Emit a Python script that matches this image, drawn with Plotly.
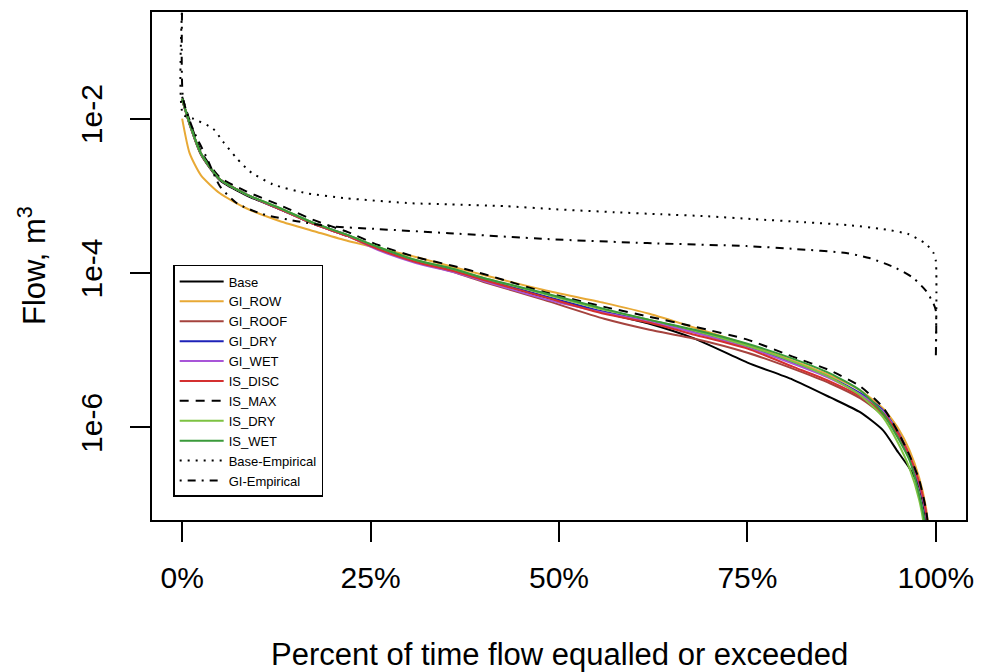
import plotly.graph_objects as go

# ---- data (percent of time vs flow, m3) ----
pct = [0, 1, 2.5, 5, 8.5, 13, 17.5, 22, 26, 31, 36, 40, 48, 56, 62, 68, 75, 81,
       86, 90, 93, 95, 96.5, 97.8, 98.7, 99.5]

base = [1.757e-2, 8.37e-3, 3.431e-3, 1.585e-3, 1.015e-3, 6.70e-4, 4.29e-4, 3.00e-4,
        2.10e-4, 1.43e-4, 1.061e-4, 8.12e-5, 4.90e-5, 3.05e-5, 2.20e-5, 1.41e-5,
        6.90e-6, 4.16e-6, 2.44e-6, 1.56e-6, 9.15e-7, 4.76e-7, 2.96e-7, 1.68e-7,
        6.31e-8, 5.86e-9]
gi_row = [1.0e-2, 3.535e-3, 1.839e-3, 1.077e-3, 6.90e-4, 4.69e-4, 3.48e-4, 2.59e-4,
          2.10e-4, 1.61e-4, 1.195e-4, 9.42e-5, 6.03e-5, 4.10e-5, 2.96e-5, 1.95e-5,
          1.18e-5, 7.32e-6, 4.69e-6, 3.00e-6, 1.76e-6, 9.71e-7, 5.05e-7, 2.20e-7,
          9.01e-8, 1.92e-8]
gi_roof = [1.757e-2, 8.37e-3, 3.431e-3, 1.633e-3, 1.046e-3, 6.70e-4, 4.29e-4, 3.00e-4,
           2.04e-4, 1.39e-4, 1.03e-4, 7.65e-5, 4.48e-5, 2.55e-5, 1.84e-5, 1.41e-5,
           9.28e-6, 5.77e-6, 3.70e-6, 2.37e-6, 1.43e-6, 7.88e-7, 3.98e-7, 1.79e-7,
           7.32e-8, 1.06e-8]
gi_dry = [1.811e-2, 8.62e-3, 3.535e-3, 1.633e-3, 1.046e-3, 6.70e-4, 4.42e-4, 3.09e-4,
          2.10e-4, 1.43e-4, 1.093e-4, 8.37e-5, 5.05e-5, 3.14e-5, 2.40e-5, 1.73e-5,
          1.11e-5, 6.90e-6, 4.42e-6, 2.75e-6, 1.66e-6, 8.62e-7, 4.22e-7, 1.84e-7,
          7.32e-8, 1.06e-8]
gi_wet = [1.811e-2, 8.62e-3, 3.535e-3, 1.633e-3, 1.046e-3, 6.70e-4, 4.29e-4, 3.00e-4,
          1.98e-4, 1.35e-4, 1.03e-4, 7.88e-5, 4.62e-5, 3.05e-5, 2.33e-5, 1.68e-5,
          1.08e-5, 6.70e-6, 4.29e-6, 2.66e-6, 1.61e-6, 8.37e-7, 4.35e-7, 1.89e-7,
          7.77e-8, 1.13e-8]
is_disc = [1.811e-2, 8.62e-3, 3.535e-3, 1.633e-3, 1.046e-3, 6.70e-4, 4.29e-4, 3.00e-4,
           2.04e-4, 1.39e-4, 1.061e-4, 8.12e-5, 4.90e-5, 2.96e-5, 2.26e-5, 1.585e-5,
           1.046e-5, 6.13e-6, 3.92e-6, 2.51e-6, 1.52e-6, 8.37e-7, 4.35e-7, 1.95e-7,
           8.0e-8, 1.23e-8]
is_max = [1.923e-2, 9.42e-3, 3.752e-3, 1.733e-3, 1.143e-3, 7.54e-4, 4.83e-4, 3.38e-4,
          2.30e-4, 1.61e-4, 1.23e-4, 9.71e-5, 5.69e-5, 3.64e-5, 2.71e-5, 2.01e-5,
          1.37e-5, 8.25e-6, 5.44e-6, 3.38e-6, 1.81e-6, 8.62e-7, 4.35e-7, 2.07e-7,
          8.49e-8, 1.92e-8]
is_dry = [1.811e-2, 8.62e-3, 3.535e-3, 1.633e-3, 1.046e-3, 6.90e-4, 4.42e-4, 3.09e-4,
          2.17e-4, 1.47e-4, 1.126e-4, 8.62e-5, 5.36e-5, 3.33e-5, 2.47e-5, 1.79e-5,
          1.14e-5, 7.11e-6, 4.42e-6, 2.59e-6, 1.35e-6, 6.22e-7, 2.96e-7, 1.14e-7,
          3.48e-8, 5.86e-9]
is_wet = [1.811e-2, 8.62e-3, 3.535e-3, 1.633e-3, 1.046e-3, 6.90e-4, 4.42e-4, 3.09e-4,
          2.17e-4, 1.47e-4, 1.126e-4, 8.62e-5, 5.52e-5, 3.43e-5, 2.47e-5, 1.84e-5,
          1.21e-5, 7.77e-6, 4.97e-6, 3.00e-6, 1.52e-6, 7.21e-7, 3.75e-7, 1.33e-7,
          4.69e-8, 5.86e-9]

pct_base_emp = [0, 0.13, 1.45, 4.09, 5.41, 7.26, 8.97, 12.0, 16.5, 21.8, 30.5, 35.4,
                42.9, 49.5, 57.4, 63.5, 69.7, 75.9, 82.5, 88.5, 93.0, 96.4, 98.7,
                99.7, 100, 100]
base_emp = [0.3, 1.127e-2, 1.0e-2, 7.43e-3, 5.05e-3, 3.05e-3, 2.07e-3, 1.41e-3,
            1.08e-3, 9.29e-4, 8.0e-4, 7.76e-4, 7.33e-4, 6.70e-4, 6.12e-4, 5.77e-4,
            5.43e-4, 4.98e-4, 4.55e-4, 4.16e-4, 3.70e-4, 3.18e-4, 2.37e-4, 1.81e-4,
            1.43e-4, 9.0e-6]

pct_gi_emp = [0, 0.13, 1.45, 3.3, 5.01, 7.26, 10.7, 15.2, 19.5, 26.1, 35.4, 48.5,
              61.7, 74.9, 81.5, 88.1, 91.2, 94.7, 97.0, 98.7, 99.7, 100, 100]
gi_emp = [0.3, 1.81e-2, 7.21e-3, 3.05e-3, 1.33e-3, 8.0e-4, 5.77e-4, 4.69e-4,
          4.04e-4, 3.70e-4, 3.28e-4, 2.75e-4, 2.44e-4, 2.23e-4, 2.04e-4, 1.81e-4,
          1.56e-4, 1.16e-4, 8.61e-5, 5.86e-5, 3.98e-5, 3.24e-5, 8.5e-6]

yticks = [1e-6, 1e-4, 1e-2]
ytick_labels = ["1e-6", "1e-4", "1e-2"]
xticks = [0, 25, 50, 75, 100]
xtick_labels = ["0%", "25%", "50%", "75%", "100%"]
x_title = "Percent of time flow equalled or exceeded"
y_title = "Flow, m<sup>3</sup>"

FONT = "Liberation Sans, Arial, sans-serif"

series = [
    ("Base", pct, base, "#000000", "solid"),
    ("GI_ROW", pct, gi_row, "#E8A935", "solid"),
    ("GI_ROOF", pct, gi_roof, "#A5433E", "solid"),
    ("GI_DRY", pct, gi_dry, "#1E22B8", "solid"),
    ("GI_WET", pct, gi_wet, "#A855D8", "solid"),
    ("IS_DISC", pct, is_disc, "#D43030", "solid"),
    ("IS_MAX", pct, is_max, "#000000", "9px,7px"),
    ("IS_DRY", pct, is_dry, "#7DC242", "solid"),
    ("IS_WET", pct, is_wet, "#3A9A3A", "solid"),
    ("Base-Empirical", pct_base_emp, base_emp, "#000000", "2px,6px"),
    ("GI-Empirical", pct_gi_emp, gi_emp, "#000000", "2px,6px,8px,6px"),
]

fig = go.Figure()
for name, xs, ys, col, dash in series:
    fig.add_trace(go.Scatter(
        x=xs, y=ys, mode="lines", name=name,
        line=dict(color=col, width=2, dash=dash, shape="spline", smoothing=0.6),
    ))

fig.update_layout(
    width=984, height=672,
    margin=dict(l=152, r=14, t=10, b=152),
    paper_bgcolor="white", plot_bgcolor="white",
    font=dict(family=FONT, color="black", size=30),
    showlegend=True,
    legend=dict(
        x=0.026, y=0.502, xanchor="left", yanchor="top",
        bgcolor="white", bordercolor="black", borderwidth=1.5,
        font=dict(family=FONT, size=13, color="black"),
        tracegroupgap=0, itemwidth=44,
    ),
    annotations=[
        dict(text=x_title, xref="paper", yref="paper", x=0.5, y=0,
             xanchor="center", yanchor="middle", yshift=-134, showarrow=False,
             font=dict(family=FONT, size=31, color="black")),
        dict(text=y_title, xref="paper", yref="paper", x=0, y=0.5,
             xanchor="center", yanchor="middle", xshift=-120, textangle=-90,
             showarrow=False, font=dict(family=FONT, size=31, color="black")),
    ],
)

fig.update_xaxes(
    range=[-4, 104], tickvals=xticks, ticktext=xtick_labels,
    showgrid=False, zeroline=False,
    showline=True, mirror=True, linecolor="black", linewidth=1.5,
    ticks="outside", ticklen=20, tickwidth=1.5, tickcolor="black",
    ticklabelstandoff=10,
    tickfont=dict(family=FONT, size=30),
)
fig.update_yaxes(
    type="log", range=[-7.2, -0.619], tickvals=yticks, ticktext=ytick_labels,
    tickangle=-90,
    showgrid=False, zeroline=False,
    showline=True, mirror=True, linecolor="black", linewidth=1.5,
    ticks="outside", ticklen=20, tickwidth=1.5, tickcolor="black",
    ticklabelstandoff=16,
    tickfont=dict(family=FONT, size=30),
)

fig.write_html("out.html")
